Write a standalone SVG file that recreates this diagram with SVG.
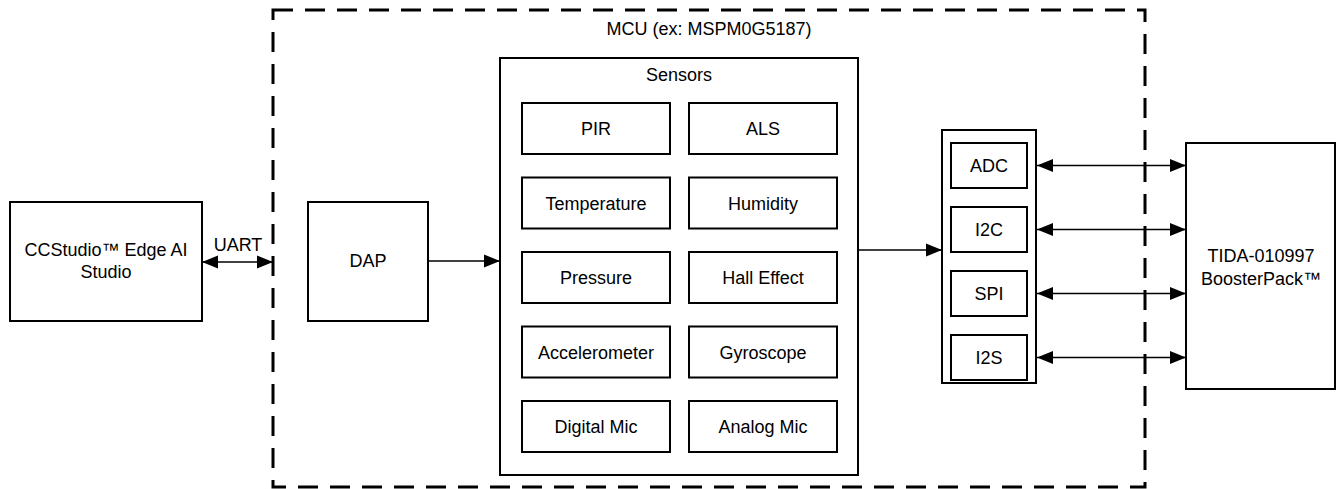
<svg xmlns="http://www.w3.org/2000/svg" width="1338" height="489" viewBox="0 0 1338 489">
<defs>
<style>
.box{fill:#fff;stroke:#000;stroke-width:2}
.dash{fill:none;stroke:#000;stroke-width:3;stroke-dasharray:20 12}
.t{font-family:"Liberation Sans",Arial,sans-serif;font-size:18px;fill:#000;text-anchor:middle}
.ln{stroke:#000;stroke-width:1.3;fill:none}
</style>
<marker id="ah" markerUnits="userSpaceOnUse" markerWidth="16" markerHeight="14" refX="16" refY="7" orient="auto-start-reverse">
<path d="M0,0.5 L16,7 L0,13.5 z" fill="#000"/>
</marker>
</defs>
<rect width="1338" height="489" fill="#fff"/>

<g id="mcu">
<rect class="dash" x="273" y="10" width="872" height="477"/>
<text class="t" x="709" y="35">MCU (ex: MSPM0G5187)</text>
</g>

<g id="ccstudio">
<rect class="box" x="10" y="202" width="192" height="119"/>
<text class="t" x="106" y="256">CCStudio™ Edge AI</text>
<text class="t" x="106" y="278">Studio</text>
</g>

<g id="dap">
<rect class="box" x="308" y="202" width="120" height="119"/>
<text class="t" x="368" y="267">DAP</text>
</g>

<g id="sensors">
<rect class="box" x="500" y="58" width="358" height="417"/>
<text class="t" x="679" y="81">Sensors</text>
</g>
<g id="pir"><rect class="box" x="522" y="103" width="148" height="51"/><text class="t" x="596" y="135">PIR</text></g>
<g id="als"><rect class="box" x="689" y="103" width="148" height="51"/><text class="t" x="763" y="135">ALS</text></g>
<g id="temperature"><rect class="box" x="522" y="177.5" width="148" height="51"/><text class="t" x="596" y="209.5">Temperature</text></g>
<g id="humidity"><rect class="box" x="689" y="177.5" width="148" height="51"/><text class="t" x="763" y="209.5">Humidity</text></g>
<g id="pressure"><rect class="box" x="522" y="252" width="148" height="51"/><text class="t" x="596" y="284">Pressure</text></g>
<g id="hall"><rect class="box" x="689" y="252" width="148" height="51"/><text class="t" x="763" y="284">Hall Effect</text></g>
<g id="accel"><rect class="box" x="522" y="326.5" width="148" height="51"/><text class="t" x="596" y="358.5">Accelerometer</text></g>
<g id="gyro"><rect class="box" x="689" y="326.5" width="148" height="51"/><text class="t" x="763" y="358.5">Gyroscope</text></g>
<g id="dmic"><rect class="box" x="522" y="401" width="148" height="51"/><text class="t" x="596" y="433">Digital Mic</text></g>
<g id="amic"><rect class="box" x="689" y="401" width="148" height="51"/><text class="t" x="763" y="433">Analog Mic</text></g>

<g id="interfaces">
<rect class="box" x="942" y="130" width="94" height="253"/>
</g>
<g id="adc"><rect class="box" x="951" y="143" width="76" height="45"/><text class="t" x="989" y="172">ADC</text></g>
<g id="i2c"><rect class="box" x="951" y="207" width="76" height="45"/><text class="t" x="989" y="236">I2C</text></g>
<g id="spi"><rect class="box" x="951" y="271" width="76" height="45"/><text class="t" x="989" y="300">SPI</text></g>
<g id="i2s"><rect class="box" x="951" y="335" width="76" height="45"/><text class="t" x="989" y="364">I2S</text></g>

<g id="tida">
<rect class="box" x="1186" y="143" width="149" height="246"/>
<text class="t" x="1261" y="262">TIDA-010997</text>
<text class="t" x="1261" y="285">BoosterPack™</text>
</g>

<g id="connectors">
<line class="ln" x1="202" y1="262" x2="273" y2="262" marker-start="url(#ah)" marker-end="url(#ah)"/>
<text class="t" x="238" y="251">UART</text>
<line class="ln" x1="428" y1="261" x2="500" y2="261" marker-end="url(#ah)"/>
<line class="ln" x1="858" y1="250" x2="942" y2="250" marker-end="url(#ah)"/>
<line class="ln" x1="1037" y1="165.5" x2="1186" y2="165.5" marker-start="url(#ah)" marker-end="url(#ah)"/>
<line class="ln" x1="1037" y1="229.5" x2="1186" y2="229.5" marker-start="url(#ah)" marker-end="url(#ah)"/>
<line class="ln" x1="1037" y1="293.5" x2="1186" y2="293.5" marker-start="url(#ah)" marker-end="url(#ah)"/>
<line class="ln" x1="1037" y1="357.5" x2="1186" y2="357.5" marker-start="url(#ah)" marker-end="url(#ah)"/>
</g>
</svg>
